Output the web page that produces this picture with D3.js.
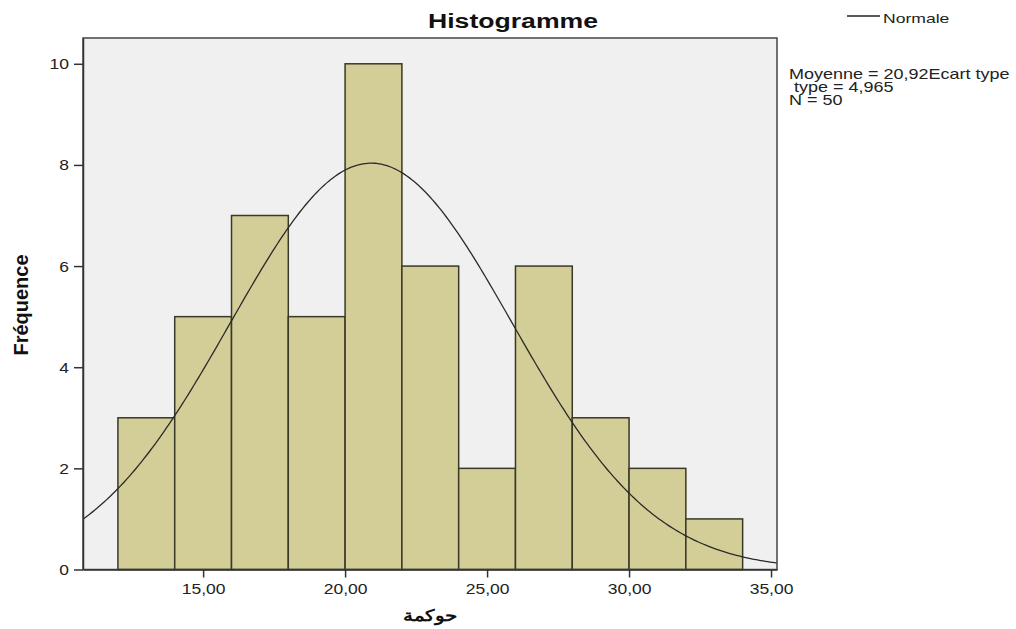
<!DOCTYPE html>
<html><head><meta charset="utf-8">
<script src="https://cdn.jsdelivr.net/npm/d3@7"></script>
<style>body{margin:0;background:#fff;} text{font-family:"Liberation Sans",Arial,sans-serif;}</style>
</head><body>
<svg id="c" width="1016" height="629"></svg>
<script>
const binStarts = [12,14,16,18,20,22,24,26,28,30,32];
const binWidth = 2;
const counts = [3,5,7,5,10,6,2,6,3,2,1];
const xTicks = [15,20,25,30,35];
const yTicks = [0,2,4,6,8,10];
const mean = 20.92, sd = 4.965, N = 50;
const statLines = ["Moyenne = 20,92Ecart type", " type = 4,965", "N = 50"];

const svg = d3.select("#c");
const L=83, R=777, T=38, B=569.5;
const x = d3.scaleLinear().domain([10.77,35.21]).range([L,R]);
const y = d3.scaleLinear().domain([0,10.51]).range([B,T]);

// horizontal stretch of text (the reference's glyphs are wide)
function stretch(sel, k){
  sel.each(function(){
    const w = this.getComputedTextLength();
    if (w>0){ this.setAttribute("textLength", (w*k).toFixed(1)); this.setAttribute("lengthAdjust","spacingAndGlyphs"); }
  });
}

svg.append("rect").attr("x",L).attr("y",T).attr("width",R-L).attr("height",B-T).attr("fill","#f0f0f0");

svg.selectAll("rect.bar").data(binStarts).enter().append("rect").attr("class","bar")
  .attr("x",d=>x(d)).attr("width",d=>x(d+binWidth)-x(d))
  .attr("y",(d,i)=>y(counts[i])).attr("height",(d,i)=>B-y(counts[i]))
  .attr("fill","#d3ce98").attr("stroke","#3a3826").attr("stroke-width",1.5);

const pdf = v => N*binWidth*Math.exp(-0.5*((v-mean)/sd)**2)/(sd*Math.sqrt(2*Math.PI));
const xs = d3.range(0,301).map(i=>10.77+(35.21-10.77)*i/300);
svg.append("path").datum(xs).attr("fill","none").attr("stroke","#2a2a2a").attr("stroke-width",1.3)
  .attr("d",d3.line().x(d=>x(d)).y(d=>y(pdf(d))));

svg.append("rect").attr("x",L).attr("y",T).attr("width",R-L).attr("height",B-T).attr("fill","none").attr("stroke","#444").attr("stroke-width",1.5);

const xa = svg.append("g").attr("transform",`translate(0,${B})`)
  .call(d3.axisBottom(x).tickValues(xTicks).tickSize(8).tickSizeOuter(0).tickFormat(d=>d3.format(".2f")(d).replace(".",",")));
xa.select(".domain").attr("stroke","#333").attr("stroke-width",1.5);
xa.selectAll(".tick line").attr("stroke","#333").attr("stroke-width",1.5);
xa.selectAll(".tick text").attr("font-size",14).attr("fill","#222").attr("y",24).attr("dy",0).call(stretch,1.25);

const ya = svg.append("g").attr("transform",`translate(${L},0)`)
  .call(d3.axisLeft(y).tickValues(yTicks).tickSize(9).tickSizeOuter(0).tickFormat(d3.format("d")));
ya.select(".domain").attr("stroke","#333").attr("stroke-width",1.5);
ya.selectAll(".tick line").attr("stroke","#333").attr("stroke-width",1.5);
ya.selectAll(".tick text").attr("font-size",14).attr("fill","#222").attr("x",-14).attr("dy","0.36em").call(stretch,1.25);

svg.append("text").attr("x",513).attr("y",28).attr("text-anchor","middle").attr("font-size",20).attr("font-weight","bold").attr("fill","#111").text("Histogramme").call(stretch,1.33);
svg.append("text").attr("transform","translate(28,305) rotate(-90)").attr("text-anchor","middle").attr("font-size",20).attr("font-weight","bold").attr("fill","#111").text("Fréquence");
svg.append("text").attr("x",430).attr("y",621).attr("text-anchor","middle").attr("font-size",16).attr("font-weight","bold").attr("fill","#111").attr("font-family","DejaVu Sans").text("حوكمة").call(stretch,1.25);

svg.append("line").attr("x1",847).attr("x2",880).attr("y1",16).attr("y2",16).attr("stroke","#222").attr("stroke-width",1.3);
svg.append("text").attr("x",883).attr("y",23).attr("font-size",13).attr("fill","#222").text("Normale").call(stretch,1.35);
const statY = [79, 92, 105];
svg.selectAll("text.stat").data(statLines).enter().append("text").attr("class","stat")
  .attr("x",789).attr("y",(d,i)=>statY[i]).attr("font-size",14.5).attr("fill","#222").attr("xml:space","preserve").style("white-space","pre").text(d=>d).call(stretch,1.24);
</script>
</body></html>
